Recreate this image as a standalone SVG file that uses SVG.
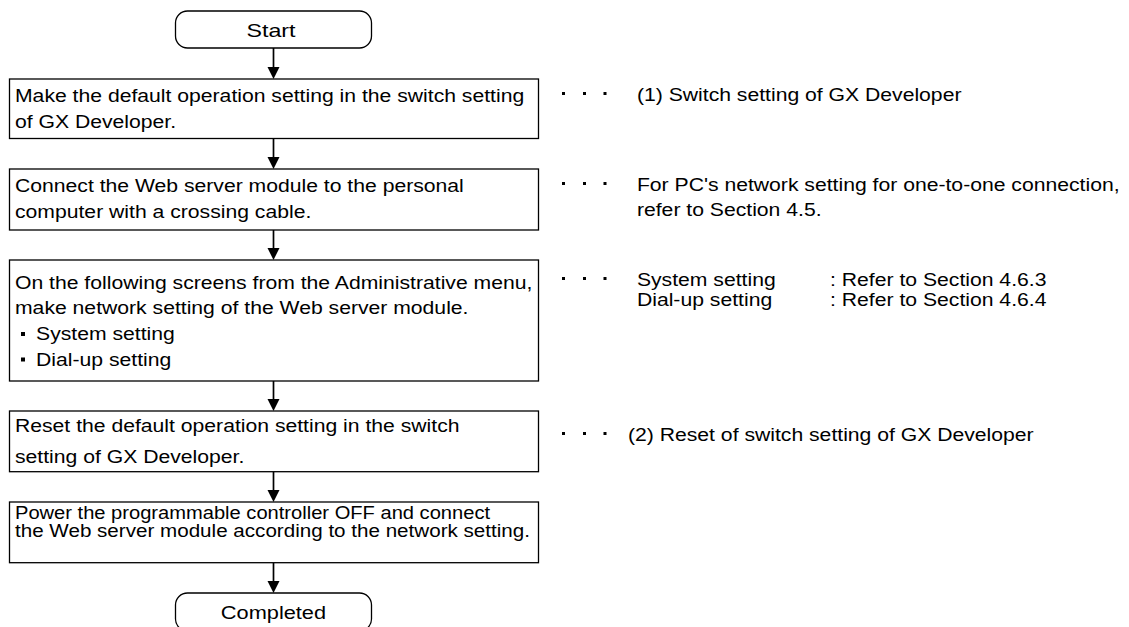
<svg xmlns="http://www.w3.org/2000/svg" width="1129" height="627" viewBox="0 0 1129 627">
<style>
.box{fill:#fff;stroke:#000;stroke-width:1.3}
.t{font-family:"Liberation Sans",Arial,sans-serif;font-size:17.5px;fill:#000}
.tc{font-family:"Liberation Sans",Arial,sans-serif;fill:#000;text-anchor:middle}
.ln{stroke:#000;stroke-width:1.7;fill:none}
.ah{fill:#000}
.dot{fill:#000}
</style>
<rect width="1129" height="627" fill="#fff"/>
<g id="connectors">
<line class="ln" x1="273.5" y1="48" x2="273.5" y2="68"/><polygon class="ah" points="267.5,67 279.5,67 273.5,79"/>
<line class="ln" x1="273.5" y1="138.5" x2="273.5" y2="158"/><polygon class="ah" points="267.5,157 279.5,157 273.5,169"/>
<line class="ln" x1="273.5" y1="230" x2="273.5" y2="249"/><polygon class="ah" points="267.5,248 279.5,248 273.5,260"/>
<line class="ln" x1="273.5" y1="381" x2="273.5" y2="400"/><polygon class="ah" points="267.5,399 279.5,399 273.5,411"/>
<line class="ln" x1="273.5" y1="472" x2="273.5" y2="491"/><polygon class="ah" points="267.5,490 279.5,490 273.5,502"/>
<line class="ln" x1="273.5" y1="563" x2="273.5" y2="582"/><polygon class="ah" points="267.5,581 279.5,581 273.5,593"/>
</g>
<g id="start">
<rect class="box" x="175.5" y="11" width="196" height="37" rx="12" ry="12"/>
<g transform="scale(1.21 1)"><text class="tc" x="224" y="36.7" font-size="19.2">Start</text></g>
</g>
<g id="step1">
<rect class="box" x="9.5" y="79" width="529" height="59.5"/>
<g transform="scale(1.21 1)">
<text class="t" x="12.4" y="102.3">Make the default operation setting in the switch setting</text>
<text class="t" x="12.4" y="128.3">of GX Developer.</text>
</g>
</g>
<g id="step2">
<rect class="box" x="9.5" y="169" width="529" height="61"/>
<g transform="scale(1.21 1)">
<text class="t" x="12.4" y="192.3">Connect the Web server module to the personal</text>
<text class="t" x="12.4" y="218.3">computer with a crossing cable.</text>
</g>
</g>
<g id="step3">
<rect class="box" x="9.5" y="260" width="529" height="121"/>
<rect class="dot" x="21" y="332" width="4" height="4"/>
<rect class="dot" x="21" y="357.5" width="4" height="4"/>
<g transform="scale(1.21 1)">
<text class="t" x="12.4" y="289">On the following screens from the Administrative menu,</text>
<text class="t" x="12.4" y="314.5">make network setting of the Web server module.</text>
<text class="t" x="29.8" y="340.5">System setting</text>
<text class="t" x="29.8" y="366">Dial-up setting</text>
</g>
</g>
<g id="step4">
<rect class="box" x="9.5" y="411" width="529" height="60.7"/>
<g transform="scale(1.21 1)">
<text class="t" x="12.4" y="431.7">Reset the default operation setting in the switch</text>
<text class="t" x="12.4" y="463.3">setting of GX Developer.</text>
</g>
</g>
<g id="step5">
<rect class="box" x="9.5" y="502" width="529" height="60.7"/>
<g transform="scale(1.21 1)">
<text class="t" x="12.4" y="519.5" textLength="392.6" lengthAdjust="spacingAndGlyphs">Power the programmable controller OFF and connect</text>
<text class="t" x="12.4" y="537.3" textLength="425.6" lengthAdjust="spacingAndGlyphs">the Web server module according to the network setting.</text>
</g>
</g>
<g id="completed">
<rect class="box" x="175.5" y="593" width="196" height="38" rx="12" ry="12"/>
<g transform="scale(1.21 1)"><text class="tc" x="226" y="619" font-size="18">Completed</text></g>
</g>
<g id="note1">
<rect class="dot" x="562" y="92" width="3" height="3"/><rect class="dot" x="583" y="92" width="3" height="3"/><rect class="dot" x="603.5" y="92" width="3" height="3"/>
<g transform="scale(1.21 1)"><text class="t" x="526.4" y="101">(1) Switch setting of GX Developer</text></g>
</g>
<g id="note2">
<rect class="dot" x="562" y="182" width="3" height="3"/><rect class="dot" x="583" y="182" width="3" height="3"/><rect class="dot" x="603.5" y="182" width="3" height="3"/>
<g transform="scale(1.21 1)">
<text class="t" x="526.4" y="191">For PC's network setting for one-to-one connection,</text>
<text class="t" x="526.4" y="216.5">refer to Section 4.5.</text>
</g>
</g>
<g id="note3">
<rect class="dot" x="562" y="277" width="3" height="3"/><rect class="dot" x="583" y="277" width="3" height="3"/><rect class="dot" x="603.5" y="277" width="3" height="3"/>
<g transform="scale(1.21 1)">
<text class="t" x="526.4" y="286">System setting</text>
<text class="t" x="686" y="286">: Refer to Section 4.6.3</text>
<text class="t" x="526.4" y="306.5">Dial-up setting</text>
<text class="t" x="686" y="306.5">: Refer to Section 4.6.4</text>
</g>
</g>
<g id="note4">
<rect class="dot" x="562" y="432" width="3" height="3"/><rect class="dot" x="583" y="432" width="3" height="3"/><rect class="dot" x="603.5" y="432" width="3" height="3"/>
<g transform="scale(1.21 1)"><text class="t" x="519" y="441">(2) Reset of switch setting of GX Developer</text></g>
</g>
</svg>
